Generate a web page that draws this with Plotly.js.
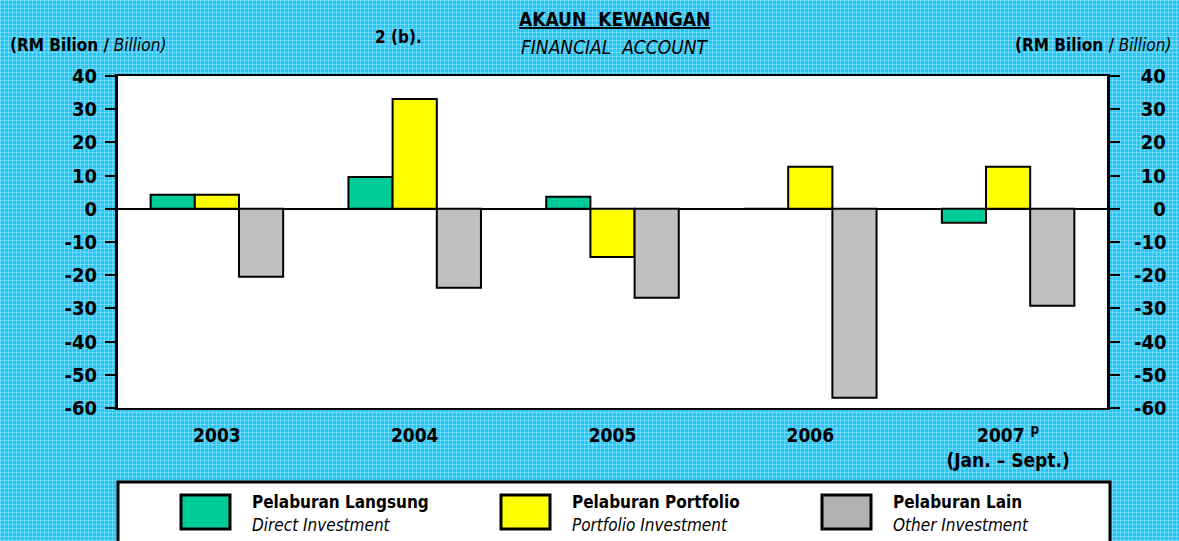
<!DOCTYPE html>
<html>
<head>
<meta charset="utf-8">
<script src="https://cdn.plot.ly/plotly-3.0.1.min.js"></script>
<style>
  html, body { margin:0; padding:0; }
  body {
    width:1179px; height:541px; overflow:hidden;
    background-color:#26C6F5;
    background-image:
      repeating-linear-gradient(0deg, rgba(255,255,255,0.28) 0px, rgba(255,255,255,0.28) 1px, transparent 1px, transparent 4px),
      repeating-linear-gradient(90deg, rgba(255,255,255,0.28) 0px, rgba(255,255,255,0.28) 1px, transparent 1px, transparent 4px);
  }
  #chart { width:1179px; height:541px; }
</style>
</head>
<body>
<div id="chart"></div>
<script>
// ---- data ----
var years = ["2003", "2004", "2005", "2006", "2007"];
var yearLabels = ["2003", "2004", "2005", "2006", "2007 <sup>p</sup><br>(Jan. – Sept.)"];
var directInvestment = [4.2, 9.6, 3.6, 0.0, -4.2];
var portfolioInvestment = [4.2, 33.1, -14.5, 12.7, 12.7];
var otherInvestment = [-20.5, -23.8, -26.8, -56.9, -29.2];
var seriesNamesMalay = ["Pelaburan Langsung", "Pelaburan Portfolio", "Pelaburan Lain"];
var seriesNamesEnglish = ["Direct Investment", "Portfolio Investment", "Other Investment"];
var yTickVals = [40, 30, 20, 10, 0, -10, -20, -30, -40, -50, -60];

// ---- styles ----
var colors = ["#00CC99", "#FFFF00", "#C0C0C0"];
var FONT = "'Liberation Sans Narrow', 'Arial Narrow', 'DejaVu Sans Condensed', sans-serif";

// plot area in pixels
var L = 118, R = 1107, T = 76, B = 408;
function px(x) { return (x - L) / (R - L); }
function py(y) { return (B - y) / (B - T); }

var seriesValues = [directInvestment, portfolioInvestment, otherInvestment];
var traces = seriesValues.map(function (vals, i) {
  return {
    type: "bar",
    x: years,
    y: vals,
    name: seriesNamesMalay[i],
    marker: { color: colors[i], line: { color: "#000", width: 2 } },
    showlegend: false,
    hoverinfo: "x+y"
  };
});
// invisible companion trace so the right-hand axis is drawn
traces.push({
  type: "scatter", mode: "markers", x: years, y: otherInvestment, yaxis: "y2",
  marker: { opacity: 0, size: 1 }, showlegend: false, hoverinfo: "skip"
});

var leftText = yTickVals.map(function (v) { return String(v); });
// right-axis labels right-aligned visually via padding
var rightText = yTickVals.map(function (v) {
  var s = String(v);
  if (v > 0) return "\u2008" + s;
  if (v === 0) return "\u2007\u2008" + s;
  return s;
});

var annotations = [
  { text: "<b><u>AKAUN  KEWANGAN</u></b>", x: px(614), y: py(19), font: { size: 19 } },
  { text: "<i>FINANCIAL  ACCOUNT</i>", x: px(614), y: py(47), font: { size: 19 } },
  { text: "<b>2 (b).</b>", x: px(398), y: py(37), font: { size: 17 } },
  { text: "<b>(RM Bilion /</b> <i>Billion)</i>", x: px(8), y: py(45), xanchor: "left", font: { size: 17 } },
  { text: "<b>(RM Bilion /</b> <i>Billion)</i>", x: px(1173), y: py(45), xanchor: "right", font: { size: 17 } }
];

var shapes = [
  // legend box
  { type: "rect", xref: "paper", yref: "paper", x0: px(118), x1: px(1110), y0: py(482), y1: py(560),
    fillcolor: "#FFFFFF", line: { color: "#000", width: 3 }, layer: "below" }
];

var swatchX = [181, 501, 822];
var textX = [250, 570, 891];
for (var i = 0; i < 3; i++) {
  shapes.push({ type: "rect", xref: "paper", yref: "paper",
    x0: px(swatchX[i]), x1: px(swatchX[i] + 49), y0: py(495), y1: py(529),
    fillcolor: i === 2 ? "#B2B2B2" : colors[i], line: { color: "#000", width: 3 } });
  annotations.push({ text: "<b>" + seriesNamesMalay[i] + "</b>", x: px(textX[i]), y: py(502),
    xanchor: "left", font: { size: 17 } });
  annotations.push({ text: "<i>" + seriesNamesEnglish[i] + "</i>", x: px(textX[i]), y: py(525),
    xanchor: "left", font: { size: 17 } });
}
annotations.forEach(function (a) {
  a.xref = "paper"; a.yref = "paper"; a.showarrow = false;
  if (!a.xanchor) a.xanchor = "center";
  a.yanchor = "middle";
  a.font.family = FONT; a.font.color = "#000";
});

var layout = {
  width: 1179, height: 541,
  margin: { l: L, r: 1179 - R, t: T, b: 541 - B, pad: 0 },
  paper_bgcolor: "rgba(0,0,0,0)",
  plot_bgcolor: "#FFFFFF",
  barmode: "group",
  bargap: 0.33,
  bargroupgap: 0,
  font: { family: FONT, color: "#000" },
  xaxis: {
    type: "category",
    tickvals: years, ticktext: yearLabels,
    ticks: "", showline: true, mirror: true, linecolor: "#000", linewidth: 2,
    showgrid: false, zeroline: false,
    tickfont: { family: FONT, size: 19, weight: "bold", color: "#000" },
    ticklabelstandoff: 9,
    fixedrange: true
  },
  yaxis: {
    range: [-60, 40], tickvals: yTickVals, ticktext: leftText,
    ticks: "outside", ticklen: 10, tickwidth: 2, tickcolor: "#000",
    showline: true, linecolor: "#000", linewidth: 3, showgrid: false,
    zeroline: true, zerolinecolor: "#000", zerolinewidth: 2,
    tickfont: { family: FONT, size: 20, weight: "bold", color: "#000" },
    ticklabelstandoff: 4,
    fixedrange: true
  },
  yaxis2: {
    overlaying: "y", side: "right", anchor: "x",
    range: [-60, 40], tickvals: yTickVals, ticktext: rightText,
    ticks: "outside", ticklen: 10, tickwidth: 2, tickcolor: "#000",
    showline: true, linecolor: "#000", linewidth: 3, showgrid: false, zeroline: false,
    tickfont: { family: FONT, size: 20, weight: "bold", color: "#000" },
    ticklabelstandoff: 10,
    fixedrange: true
  },
  annotations: annotations,
  shapes: shapes
};

Plotly.newPlot("chart", traces, layout, { displayModeBar: false, staticPlot: true });
</script>
</body>
</html>
